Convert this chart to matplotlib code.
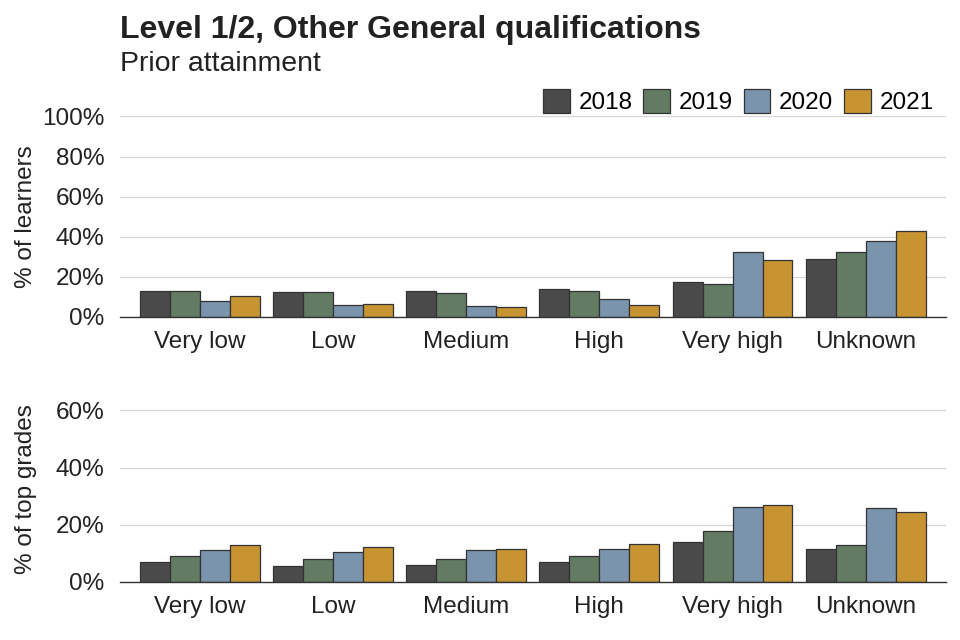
import numpy as np
import matplotlib.pyplot as plt
from matplotlib.ticker import PercentFormatter

plt.rcParams['font.family'] = ['Liberation Sans', 'DejaVu Sans']

categories = ['Very low', 'Low', 'Medium', 'High', 'Very high', 'Unknown']
years = ['2018', '2019', '2020', '2021']
colours = ['#4a4a4a', '#627b62', '#7b94ae', '#c89432']

# % of learners by prior attainment
learners = {
    '2018': [13.0, 12.5, 12.8, 14.0, 17.5, 28.8],
    '2019': [13.0, 12.5, 12.0, 12.8, 16.5, 32.2],
    '2020': [7.8, 6.0, 5.5, 8.7, 32.5, 37.7],
    '2021': [10.3, 6.3, 4.8, 5.8, 28.2, 42.7],
}
# % of top grades by prior attainment
top_grades = {
    '2018': [6.9, 5.5, 6.0, 6.9, 13.8, 11.6],
    '2019': [9.1, 8.1, 8.1, 9.1, 17.9, 13.0],
    '2020': [11.0, 10.4, 11.1, 11.6, 26.2, 25.9],
    '2021': [12.7, 12.3, 11.6, 13.2, 26.8, 24.3],
}

fig = plt.figure(figsize=(9.6, 6.4), dpi=100)
ax1 = fig.add_axes([0.125, 0.505, 0.86, 0.313])
ax2 = fig.add_axes([0.125, 0.091, 0.86, 0.29])

x = np.arange(len(categories))
w = 0.225

def draw(ax, data, ymax, ticks):
    for i, (yr, col) in enumerate(zip(years, colours)):
        ax.bar(x + (i - 1.5) * w, data[yr], width=w, color=col,
               edgecolor='#333333', linewidth=0.9, label=yr, zorder=3)
    ax.set_xlim(-0.6, 5.6)
    ax.set_ylim(0, ymax)
    ax.set_yticks(ticks)
    ax.yaxis.set_major_formatter(PercentFormatter(decimals=0))
    ax.grid(axis='y', color='#d6d6d6', linewidth=0.9, zorder=0)
    ax.set_xticks(x)
    ax.set_xticklabels(categories)
    for s in ['top', 'right', 'left']:
        ax.spines[s].set_visible(False)
    ax.spines['bottom'].set_color('#333333')
    ax.spines['bottom'].set_linewidth(1.0)
    ax.spines['bottom'].set_zorder(4)
    ax.tick_params(axis='both', length=0, labelsize=17.5, colors='#222222')
    ax.tick_params(axis='x', pad=10)
    ax.tick_params(axis='y', pad=11)

draw(ax1, learners, 100, [0, 20, 40, 60, 80, 100])
draw(ax2, top_grades, 65, [0, 20, 40, 60])

ax1.set_ylabel('% of learners', fontsize=17.5, color='#222222')
ax2.set_ylabel('% of top grades', fontsize=17.5, color='#222222')
ax1.yaxis.set_label_coords(-0.1, 0.5)
ax2.yaxis.set_label_coords(-0.1, 0.5)

leg = ax1.legend(loc='lower right', bbox_to_anchor=(1.0, 0.95), ncol=4,
                 frameon=False, fontsize=17.5, handlelength=1.1, handleheight=1.1,
                 handletextpad=0.35, columnspacing=0.45, borderaxespad=0.1)

fig.text(0.125, 0.953, 'Level 1/2, Other General qualifications', fontsize=23,
         fontweight='bold', color='#222222', va='center')
fig.text(0.125, 0.9, 'Prior attainment', fontsize=20.5, color='#222222', va='center')

fig.savefig('out.png', dpi=100)
